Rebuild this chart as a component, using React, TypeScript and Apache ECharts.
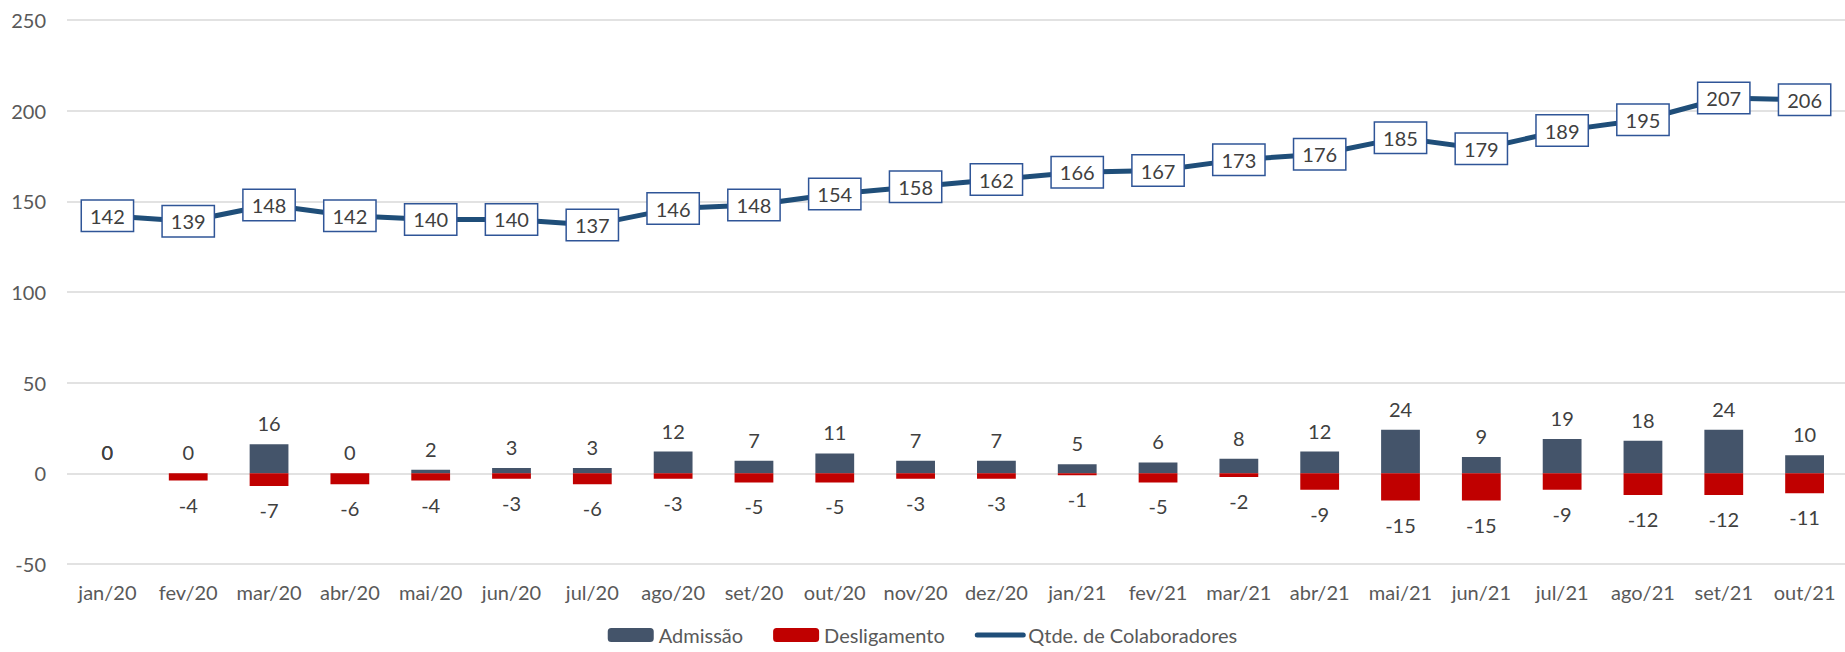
import React, { useEffect, useRef } from "react";
import * as echarts from "echarts";

const categories = ["jan/20","fev/20","mar/20","abr/20","mai/20","jun/20","jul/20","ago/20","set/20","out/20","nov/20","dez/20","jan/21","fev/21","mar/21","abr/21","mai/21","jun/21","jul/21","ago/21","set/21","out/21"];
const admissao = [0,0,16,0,2,3,3,12,7,11,7,7,5,6,8,12,24,9,19,18,24,10];
const desligamento = [0,-4,-7,-6,-4,-3,-6,-3,-5,-5,-3,-3,-1,-5,-2,-9,-15,-15,-9,-12,-12,-11];
const colaboradores = [142,139,148,142,140,140,137,146,148,154,158,162,166,167,173,176,185,179,189,195,207,206];

const FONT = "Lato, 'Noto Sans', sans-serif";

export default function App() {
  const ref = useRef<HTMLDivElement>(null);
  useEffect(() => {
    document.body.style.margin = "0";
    if (!ref.current) return;
    const chart = echarts.init(ref.current, null, { renderer: "svg" });
    chart.setOption({
      animation: false,
      textStyle: { fontFamily: FONT },
      grid: { left: 67, right: 0, top: 20, bottom: 88, containLabel: false },
      legend: {
        bottom: 2,
        left: "center",
        itemWidth: 46,
        itemHeight: 14,
        itemGap: 30,
        textStyle: { fontSize: 20, color: "#595959", fontFamily: FONT },
        data: [
          { name: "Admissão" },
          { name: "Desligamento" },
          { name: "Qtde. de Colaboradores", itemStyle: { opacity: 0 }, lineStyle: { width: 5, color: "#1F4E79", cap: "round" } },
        ],
      },
      xAxis: {
        type: "category",
        data: categories,
        axisLine: { show: false },
        axisTick: { show: false },
        axisLabel: { color: "#595959", fontSize: 20, margin: 18, fontFamily: FONT, interval: 0, hideOverlap: false },
      },
      yAxis: {
        type: "value",
        min: -50,
        max: 250,
        interval: 50,
        axisLine: { show: false },
        axisTick: { show: false },
        axisLabel: { color: "#595959", fontSize: 20, margin: 21, fontFamily: FONT },
        splitLine: { lineStyle: { color: "#D9D9D9", width: 1.5 } },
      },
      series: [
        {
          name: "Admissão",
          type: "bar",
          stack: "mov",
          barWidth: "48%",
          data: admissao,
          itemStyle: { color: "#44546A" },
          label: {
            show: true,
            position: "top",
            distance: 11,
            color: "#404040",
            fontSize: 20,
            fontFamily: FONT,
          },
        },
        {
          name: "Desligamento",
          type: "bar",
          stack: "mov",
          barWidth: "48%",
          data: desligamento.map((v, i) =>
            i === 0 ? { value: v, label: { position: "top", distance: 11 } } : v
          ),
          itemStyle: { color: "#C00000" },
          label: {
            show: true,
            position: "bottom",
            distance: 14,
            color: "#404040",
            fontSize: 20,
            fontFamily: FONT,
          },
        },
        {
          name: "Qtde. de Colaboradores",
          type: "line",
          data: colaboradores,
          symbol: "circle",
          symbolSize: 2,
          itemStyle: { color: "#1F4E79" },
          lineStyle: { color: "#1F4E79", width: 5, cap: "round" },
          z: 5,
          label: {
            show: true,
            position: "inside",
            color: "#404040",
            fontSize: 20,
            fontFamily: FONT,
            backgroundColor: "#FFFFFF",
            borderColor: "#2F5597",
            borderWidth: 1.5,
            padding: [6, 8, 4, 8],
          },
        },
      ],
    });
    return () => chart.dispose();
  }, []);
  return <div ref={ref} style={{ width: 1845, height: 652 }} />;
}
